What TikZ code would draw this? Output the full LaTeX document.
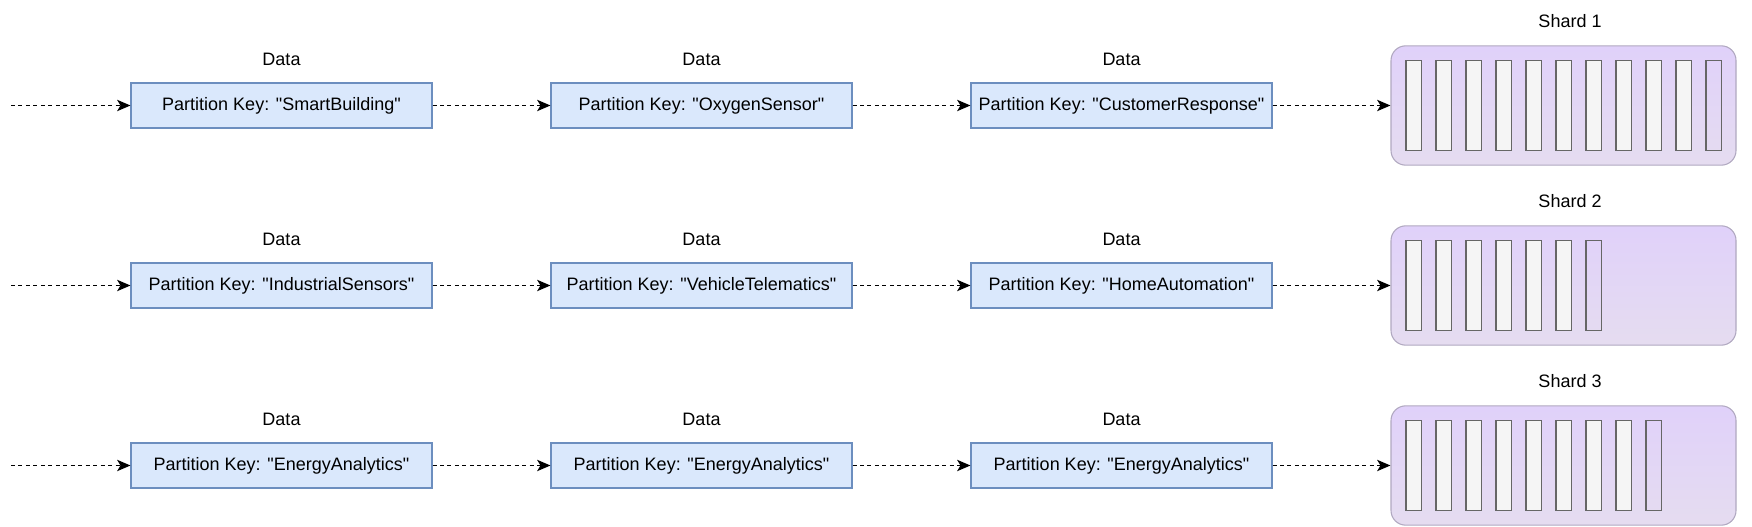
\documentclass[tikz,border=0pt]{standalone}
\usepackage{fontspec}
\setmainfont{Liberation Sans}[Ligatures=TeXOff]
\usetikzlibrary{arrows.meta}
\definecolor{boxfill}{HTML}{DAE8FC}
\definecolor{boxline}{HTML}{6C8EBF}
\definecolor{shardtop}{HTML}{E0D1FA}
\definecolor{shardbot}{HTML}{E5DCF0}
\definecolor{shardline}{HTML}{B0A8C0}
\definecolor{slotfill}{HTML}{F5F5F5}
\definecolor{slotline}{HTML}{666666}
\tikzset{
  keybox/.style={draw=boxline, fill=boxfill, line width=0.8pt, minimum width=225.75pt, minimum height=33.75pt, inner sep=0pt, font=\fontsize{13.5pt}{16pt}\selectfont},
  lbl/.style={inner sep=0pt, font=\fontsize{13.5pt}{16pt}\selectfont},
  shardbox/.style={draw=shardline, line width=0.8pt, rounded corners=11pt, top color=shardtop, bottom color=shardbot, minimum width=258.75pt, minimum height=89.5pt, inner sep=0pt},
  slotbox/.style={draw=slotline, line width=1.1pt, fill=slotfill, minimum width=11.5pt, minimum height=67.5pt, inner sep=0pt},
  slotlast/.style={draw=slotline, line width=1.1pt, minimum width=11.5pt, minimum height=67.5pt, inner sep=0pt},
  flow/.style={draw=black, line width=1pt, dash pattern=on 3pt off 2.6pt, -{Stealth[length=10pt,width=8.5pt,inset=2.5pt]}}
}
\begin{document}
\begin{tikzpicture}[x=0.75pt,y=-0.75pt]
\useasboundingbox (0,0) rectangle (1752,527);
% row 1
\node[keybox] (b11) at (281.5,105.5) {Partition Key: "SmartBuilding"};
\node[keybox] (b12) at (701.5,105.5) {Partition Key: "OxygenSensor"};
\node[keybox] (b13) at (1121.5,105.5) {Partition Key: "CustomerResponse"};
% row 2
\node[keybox] (b21) at (281.5,285.5) {Partition Key: "IndustrialSensors"};
\node[keybox] (b22) at (701.5,285.5) {Partition Key: "VehicleTelematics"};
\node[keybox] (b23) at (1121.5,285.5) {Partition Key: "HomeAutomation"};
% row 3
\node[keybox] (b31) at (281.5,465.5) {Partition Key: "EnergyAnalytics"};
\node[keybox] (b32) at (701.5,465.5) {Partition Key: "EnergyAnalytics"};
\node[keybox] (b33) at (1121.5,465.5) {Partition Key: "EnergyAnalytics"};
% data labels
\foreach \r/\y in {1/59.5,2/239.5,3/419.5}{
  \node[lbl] (d\r1) at (281.5,\y) {Data};
  \node[lbl] (d\r2) at (701.5,\y) {Data};
  \node[lbl] (d\r3) at (1121.5,\y) {Data};
}
% shards
\node[shardbox] (sh1) at (1563.5,105.5) {};
\node[shardbox] (sh2) at (1563.5,285.5) {};
\node[shardbox] (sh3) at (1563.5,465.5) {};
\node[lbl] (sl1) at (1570,21) {Shard 1};
\node[lbl] (sl2) at (1570,201) {Shard 2};
\node[lbl] (sl3) at (1570,381) {Shard 3};
% slots
\foreach \r/\y/\n in {1/105.5/11,2/285.5/7,3/465.5/9}{
  \pgfmathtruncatemacro{\m}{\n-1}
  \foreach \i in {1,...,\m}{
    \node[slotbox] (s\r-\i) at ({1413.75+30*(\i-1)},\y) {};
  }
  \node[slotlast] (s\r-\n) at ({1413.75+30*(\n-1)},\y) {};
}
% connectors
\foreach \r/\y in {1/105.5,2/285.5,3/465.5}{
  \coordinate (in\r) at (11,\y);
  \draw[flow] (in\r) -- (b\r1);
  \draw[flow] (b\r1) -- (b\r2);
  \draw[flow] (b\r2) -- (b\r3);
  \draw[flow] (b\r3) -- (sh\r);
}
\end{tikzpicture}
\end{document}
